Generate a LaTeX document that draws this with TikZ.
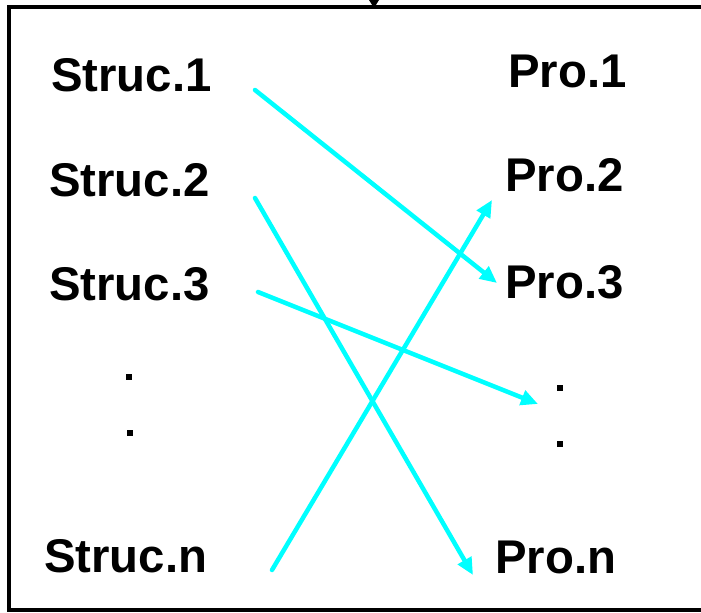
\documentclass[tikz,border=0pt]{standalone}
\usepackage{fontspec}
\setmainfont{Liberation Sans}
\usetikzlibrary{arrows.meta}
\definecolor{arrowcyan}{HTML}{00FFFF}
\begin{document}
\begin{tikzpicture}[x=1bp,y=-1bp,
  lbl/.style={inner sep=0pt,anchor=base west,font=\fontsize{47.5}{50}\selectfont\bfseries},
  link/.style={draw=arrowcyan,line width=4.5bp,line cap=round,-{Triangle[length=17bp,width=15bp]}},
  frame/.style={draw=black,line width=3.2bp},
  dot/.style={fill=black,minimum size=6bp,inner sep=0pt}]
\useasboundingbox (0,0) rectangle (701,613);
% frame
\draw[frame] (701,7) -- (9,7) -- (9,610) -- (701,610);
\fill[black] (369,0) -- (379,0) -- (374,8) -- cycle;
% labels
\node[lbl] (s1) at (51,92) {Struc.1};
\node[lbl] (s2) at (49,197) {Struc.2};
\node[lbl] (s3) at (49,300) {Struc.3};
\node[lbl] (sn) at (44,572) {Struc.n};
\node[lbl] (p1) at (508,88) {Pro.1};
\node[lbl] (p2) at (505,192) {Pro.2};
\node[lbl] (p3) at (505,298) {Pro.3};
\node[lbl] (pn) at (495,573) {Pro.n};
% dots
\node[dot] (dl1) at (129,377) {};
\node[dot] (dl2) at (130,433) {};
\node[dot] (dr1) at (560,388) {};
\node[dot] (dr2) at (560,444) {};
% connector ends
\coordinate (a1) at (255,90);
\coordinate (b1) at (497,283);
\coordinate (a2) at (255,198);
\coordinate (b2) at (473,575);
\coordinate (a3) at (258,292);
\coordinate (b3) at (538,404);
\coordinate (a4) at (272,570);
\coordinate (b4) at (492,200);
\draw[link] (a1) -- (b1);
\draw[link] (a2) -- (b2);
\draw[link] (a3) -- (b3);
\draw[link] (a4) -- (b4);
\end{tikzpicture}
\end{document}
